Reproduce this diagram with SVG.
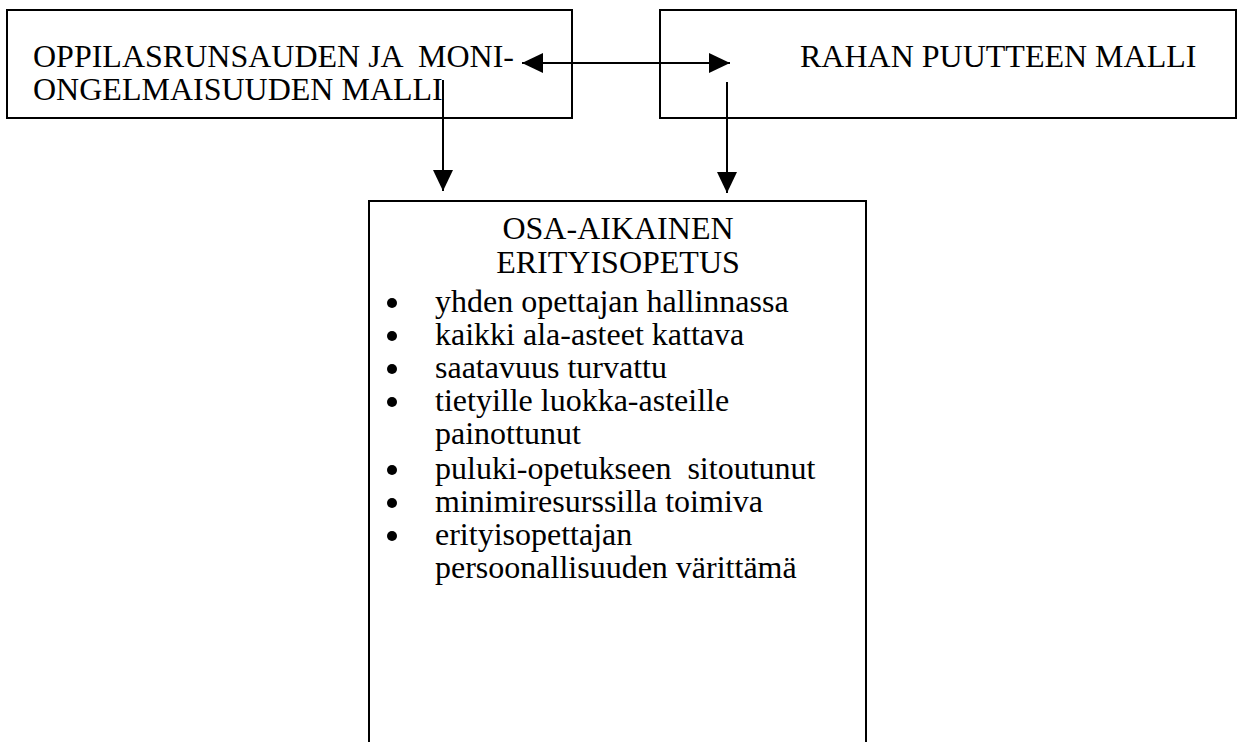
<svg xmlns="http://www.w3.org/2000/svg" width="1243" height="742" viewBox="0 0 1243 742">
  <style>
    .box { fill: #fff; stroke: #000; stroke-width: 2; }
    .t { font-family: "Liberation Serif", "Times New Roman", serif; font-size: 32px; fill: #000; white-space: pre; }
    .c { text-anchor: middle; }
    .line { stroke: #000; stroke-width: 2; fill: none; }
  </style>
  <defs>
    <marker id="ah" viewBox="0 0 21 20" refX="21" refY="10" markerWidth="21" markerHeight="20" markerUnits="userSpaceOnUse" orient="auto-start-reverse">
      <path d="M0,0 L21,10 L0,20 z" fill="#000"/>
    </marker>
  </defs>
  <rect width="1243" height="742" fill="#fff"/>

  <g id="node-oppilasrunsaus">
    <rect class="box" x="7" y="10" width="565" height="108"/>
    <text class="t" x="33" y="67" xml:space="preserve">OPPILASRUNSAUDEN JA  MONI-</text>
    <text class="t" x="33" y="100">ONGELMAISUUDEN MALLI</text>
  </g>

  <g id="node-rahan-puute">
    <rect class="box" x="660" y="10" width="576" height="108"/>
    <text class="t" x="800" y="67">RAHAN PUUTTEEN MALLI</text>
  </g>

  <g id="node-osa-aikainen">
    <path class="box" d="M369,745 L369,201 L866,201 L866,745"/>
    <text class="t c" x="618" y="239">OSA-AIKAINEN</text>
    <text class="t c" x="618" y="273">ERITYISOPETUS</text>
    <g>
      <circle cx="392" cy="303" r="5"/>
      <text class="t" x="435" y="312">yhden opettajan hallinnassa</text>
      <circle cx="392" cy="336" r="5"/>
      <text class="t" x="435" y="345">kaikki ala-asteet kattava</text>
      <circle cx="392" cy="369" r="5"/>
      <text class="t" x="435" y="378">saatavuus turvattu</text>
      <circle cx="392" cy="402" r="5"/>
      <text class="t" x="435" y="411">tietyille luokka-asteille</text>
      <text class="t" x="435" y="444">painottunut</text>
      <circle cx="392" cy="470" r="5"/>
      <text class="t" x="435" y="479" xml:space="preserve">puluki-opetukseen  sitoutunut</text>
      <circle cx="392" cy="503" r="5"/>
      <text class="t" x="435" y="512">minimiresurssilla toimiva</text>
      <circle cx="392" cy="536" r="5"/>
      <text class="t" x="435" y="545">erityisopettajan</text>
      <text class="t" x="435" y="578">persoonallisuuden värittämä</text>
    </g>
  </g>

  <g id="connectors">
    <line class="line" x1="522" y1="63" x2="730" y2="63" marker-start="url(#ah)" marker-end="url(#ah)"/>
    <line class="line" x1="443" y1="80" x2="443" y2="191" marker-end="url(#ah)"/>
    <line class="line" x1="727" y1="82" x2="727" y2="193" marker-end="url(#ah)"/>
  </g>
</svg>
